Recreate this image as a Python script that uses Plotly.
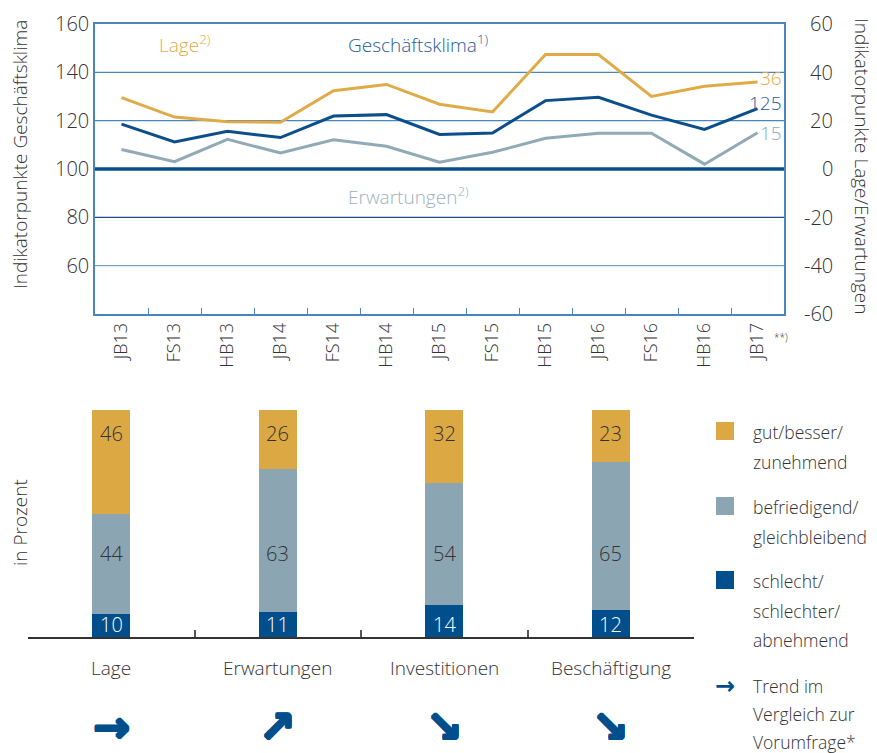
import plotly.graph_objects as go

# The page body has an 8px margin; the figure is sized/placed to compensate.
OFF = 8
W, H = 877 - OFF, 753 - OFF
def px(x): return (x - OFF) / W
def py(y): return 1 - (y - OFF) / H

# ---------------- data ----------------
periods = ["JB13", "FS13", "HB13", "JB14", "FS14", "HB14", "JB15",
           "FS15", "HB15", "JB16", "FS16", "HB16", "JB17"]
klima = [118.6, 111.2, 115.6, 113.0, 121.9, 122.5, 114.3,
         114.9, 128.3, 129.7, 122.3, 116.4, 125]
lage = [29.5, 21.5, 19.6, 19.3, 32.4, 35.0, 26.8,
        23.6, 47.4, 47.4, 30.0, 34.2, 36]
erwartungen = [8.1, 3.0, 12.3, 6.6, 12.1, 9.4, 2.8,
               6.9, 12.7, 14.8, 14.8, 2.0, 15]

left_ticks = [60, 80, 100, 120, 140, 160]
right_ticks = [-60, -40, -20, 0, 20, 40, 60]

categories = ["Lage", "Erwartungen", "Investitionen", "Beschäftigung"]
gut = [46, 26, 32, 23]
befriedigend = [44, 63, 54, 65]
schlecht = [10, 11, 14, 12]
trend = ["→", "↗", "↘", "↘"]

legend_names = [["gut/besser/", "zunehmend"],
                ["befriedigend/", "gleichbleibend"],
                ["schlecht/", "schlechter/", "abnehmend"]]
trend_note = ["Trend im", "Vergleich zur", "Vorumfrage*"]

# ---------------- styles ----------------
GOLD = "#DBA843"
GREY = "#8BA6B2"
BLUE = "#004E8C"
LINE_GOLD = "#E0AB47"
LINE_BLUE = "#0B4E8A"
LINE_GREY = "#90AAB6"
FRAME = "#4A86BD"
TXT = "#333333"
FONT = "Open Sans"
WT = 300
THICK = ", ".join(f"{dx}px {dy}px 0 {BLUE}" for dx, dy in
                  [(1, 0), (-1, 0), (0, 1), (0, -1), (1, 1), (-1, -1), (1, -1), (-1, 1)])

def f(size, color=TXT, **kw):
    d = dict(size=size, color=color, family=FONT, weight=WT)
    d.update(kw)
    return d

fig = go.Figure()

fig.add_trace(go.Scatter(x=periods, y=lage, mode="lines", line=dict(color=LINE_GOLD, width=3),
                         xaxis="x", yaxis="y2", showlegend=False))
fig.add_trace(go.Scatter(x=periods, y=erwartungen, mode="lines", line=dict(color=LINE_GREY, width=3),
                         xaxis="x", yaxis="y2", showlegend=False))
fig.add_trace(go.Scatter(x=periods, y=klima, mode="lines", line=dict(color=LINE_BLUE, width=3),
                         xaxis="x", yaxis="y", showlegend=False))

fig.add_trace(go.Bar(x=categories, y=schlecht, marker=dict(color=BLUE, line=dict(width=0)),
                     xaxis="x2", yaxis="y3", showlegend=False))
fig.add_trace(go.Bar(x=categories, y=befriedigend, marker=dict(color=GREY, line=dict(width=0)),
                     xaxis="x2", yaxis="y3", showlegend=False))
fig.add_trace(go.Bar(x=categories, y=gut, marker=dict(color=GOLD, line=dict(width=0)),
                     xaxis="x2", yaxis="y3", showlegend=False))

shapes = []
grid_colors = {60: "#7FA0C0", 80: "#1E4F80", 120: "#4A86BD", 140: "#4A86BD"}
for v, c in grid_colors.items():
    shapes.append(dict(type="line", xref="x domain", yref="y", x0=0, x1=1, y0=v, y1=v,
                       line=dict(color=c, width=1.3), layer="below"))
shapes.append(dict(type="line", xref="x domain", yref="y", x0=0, x1=1, y0=100, y1=100,
                   line=dict(color="#0C4C8A", width=3.5)))

annotations = []
def ann(**kw):
    kw.setdefault("showarrow", False)
    kw.setdefault("xanchor", "center")
    kw.setdefault("yanchor", "middle")
    annotations.append(kw)

# right axis tick labels
for v in right_ticks:
    ann(x=px(835), xref="paper", y=v, yref="y2", text=str(v), xanchor="right", font=f(20))
# axis titles
ann(x=px(20), y=py(155), xref="paper", yref="paper", text="Indikatorpunkte Geschäftsklima",
    textangle=-90, font=f(19))
ann(x=px(862), y=py(166), xref="paper", yref="paper", text="Indikatorpunkte Lage/Erwartungen",
    textangle=90, font=f(19))
ann(x=px(20), y=py(523), xref="paper", yref="paper", text="in Prozent",
    textangle=-90, font=f(19))
# series names in top chart
ann(x=px(157), y=py(44), xref="paper", yref="paper", text="Lage<sup>2)</sup>",
    xanchor="left", font=f(19, LINE_GOLD))
ann(x=px(346), y=py(44), xref="paper", yref="paper", text="Geschäftsklima<sup>1)</sup>",
    xanchor="left", font=f(19, "#1F5C99"))
ann(x=px(346), y=py(196), xref="paper", yref="paper", text="Erwartungen<sup>2)</sup>",
    xanchor="left", font=f(19, "#9DB2BE"))
# end labels
ann(x=px(784), xref="paper", y=lage[-1] + 1.7, yref="y2", text=f"{lage[-1]:.0f}",
    xanchor="right", font=f(19, LINE_GOLD))
ann(x=px(784), xref="paper", y=klima[-1] + 2.3, yref="y", text=f"{klima[-1]:.0f}",
    xanchor="right", font=f(19, "#1F5C99"))
ann(x=px(784), xref="paper", y=erwartungen[-1], yref="y2", text=f"{erwartungen[-1]:.0f}",
    xanchor="right", font=f(19, LINE_GREY))
ann(x=px(772), y=py(337), xref="paper", yref="paper", text="**)",
    xanchor="left", font=f(10))

# bar labels, category labels, trend arrows
for i, c in enumerate(categories):
    ann(x=c, xref="x2", y=89.5, yref="y3", text=str(gut[i]), font=f(20))
    ann(x=c, xref="x2", y=37, yref="y3", text=str(befriedigend[i]), font=f(20))
    ann(x=c, xref="x2", y=5.3, yref="y3", text=str(schlecht[i]), font=f(20, "white"))
    ann(x=c, xref="x2", y=py(668), yref="paper", text=c, font=f(19))
    ann(x=c, xref="x2", y=py(726), yref="paper", text=trend[i],
        font=dict(size=44, color=BLUE, family="DejaVu Sans", weight="bold", shadow=THICK))

# legend
leg_colors = [GOLD, GREY, BLUE]
leg_y = [422, 497, 571]
for col, y0, lines in zip(leg_colors, leg_y, legend_names):
    shapes.append(dict(type="rect", xref="paper", yref="paper", x0=px(716), x1=px(734),
                       y0=py(y0 + 18), y1=py(y0), fillcolor=col, line=dict(width=0)))
    for k, t in enumerate(lines):
        ann(x=px(751), y=py(y0 + 10 + 29.5 * k), xref="paper", yref="paper", text=t,
            xanchor="left", font=f(17.5))
ann(x=px(725), y=py(686), xref="paper", yref="paper", text=trend[0],
    font=dict(size=24, color=BLUE, family="DejaVu Sans", weight="bold"))
for k, t in enumerate(trend_note):
    ann(x=px(751), y=py(686 + 28 * k), xref="paper", yref="paper", text=t,
        xanchor="left", font=f(17.5))

fig.update_layout(
    width=W, height=H, margin=dict(l=0, r=0, t=0, b=0, pad=0, autoexpand=False),
    paper_bgcolor="white", plot_bgcolor="rgba(0,0,0,0)",
    font=dict(family=FONT, color=TXT, weight=WT),
    barmode="stack", bargap=0.77,
    showlegend=False,
    xaxis=dict(domain=[px(95), px(784)], anchor="y", type="category", automargin=False,
               range=[-0.5, len(periods) - 0.5],
               tickangle=-90, ticks="inside", tickson="boundaries", ticklen=6,
               tickcolor=FRAME, tickwidth=1.3, showline=True, linecolor=FRAME, linewidth=1.5,
               mirror=True, showgrid=False, tickfont=f(18)),
    yaxis=dict(domain=[py(314), py(24)], anchor="x", range=[40, 160], tickvals=left_ticks,
               automargin=False, showgrid=False, zeroline=False, showline=True, linecolor=FRAME,
               linewidth=1.5, mirror=True, ticks="", tickfont=f(20)),
    yaxis2=dict(overlaying="y", side="right", anchor="x", range=[-60, 60], showgrid=False,
                automargin=False, zeroline=False, showticklabels=False, showline=False),
    xaxis2=dict(domain=[px(28), px(694)], anchor="y3", type="category", range=[-0.5, 3.5],
                automargin=False, showline=True, linecolor=TXT, linewidth=1.5, ticks="inside",
                tickson="boundaries", ticklen=7, tickcolor="#555555", tickwidth=1.5,
                showticklabels=False, showgrid=False),
    yaxis3=dict(domain=[py(637), py(410)], anchor="x2", range=[0, 100], visible=False,
                automargin=False),
    shapes=shapes, annotations=annotations,
)

fig.write_html("out.html")
